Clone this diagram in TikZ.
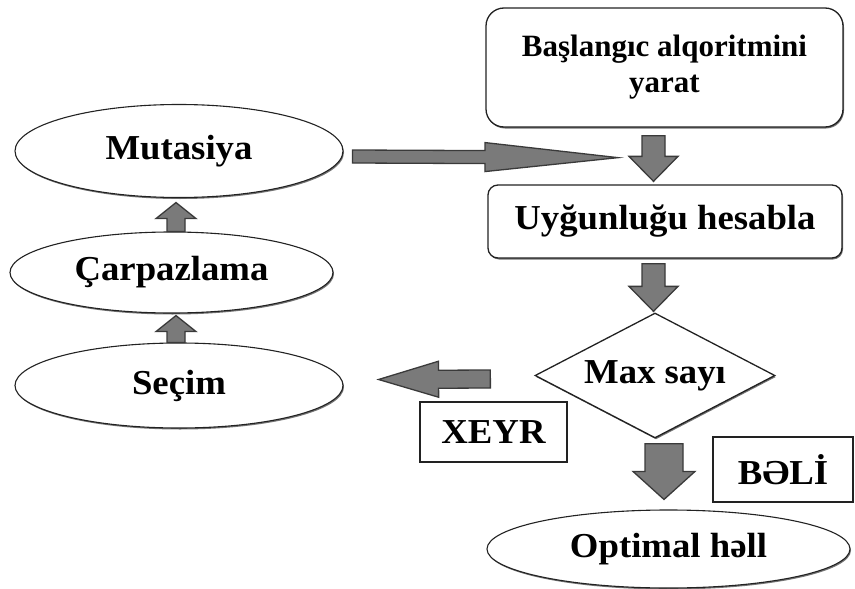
\documentclass[tikz,border=0pt]{standalone}
\usepackage{fontspec}
\setmainfont[FakeStretch=1.05]{Liberation Serif}
\newfontfamily\plainserif{Liberation Serif}
\usetikzlibrary{shapes.geometric,calc,shadows}

\definecolor{arrowfill}{HTML}{7A7A7A}
\definecolor{arrowedge}{HTML}{3A3A3A}
\definecolor{edgeink}{HTML}{222222}

\tikzset{
  every node/.style={font=\bfseries\fontsize{35}{40}\selectfont, text=black},
  softshadow/.style={drop shadow={shadow xshift=1pt, shadow yshift=-1.5pt,
                     fill=black!55, opacity=1}},
  procbox/.style={rectangle, draw=edgeink, fill=white, line width=1.3pt,
                  rounded corners=#1, align=center, inner sep=0pt, softshadow},
  procbox/.default=10pt,
  labelbox/.style={rectangle, draw=edgeink, fill=white, line width=1.3pt, inner sep=0pt},
  oval/.style={ellipse, draw=edgeink, fill=white, line width=1.1pt, inner sep=0pt, softshadow},
  decision/.style={diamond, aspect=1.9, draw=edgeink, fill=white, line width=1.3pt,
                   inner sep=0pt, softshadow},
  fatarrow/.style={fill=arrowfill, draw=arrowedge, line width=1.3pt, line join=miter},
}

% block arrow from #1 to #2: half shaft width #3, half head width #4, head length #5
\newcommand\fatarrow[5]{%
  \coordinate (fa-hb) at ($(#2)!#5!(#1)$);
  \draw[fatarrow] ($(#1)!#3!90:(#2)$) -- ($(fa-hb)!#3!90:(#2)$)
    -- ($(fa-hb)!#4!90:(#2)$) -- (#2) -- ($(fa-hb)!#4!-90:(#2)$)
    -- ($(fa-hb)!#3!-90:(#2)$) -- ($(#1)!#3!-90:(#2)$) -- cycle;}

\begin{document}
\begin{tikzpicture}[x=1pt, y=-1pt]
\useasboundingbox (0,0) rectangle (855,589);

% main column
\node[procbox=18pt, minimum width=357pt, minimum height=119pt,
      font={\plainserif\bfseries\fontsize{31}{36}\selectfont}]
      (start) at (664.5,67.5) {Başlangıc alqoritmini\\yarat};
\node[procbox=10pt, minimum width=354pt, minimum height=73pt]
      (fit) at (665,221.5) {Uyğunluğu hesabla};
\node[decision, minimum width=240pt, minimum height=125pt]
      (max) at (655,375.5) {Max sayı};
\node[labelbox, minimum width=147pt, minimum height=60pt]
      (no) at (493.5,432) {XEYR};
\node[labelbox, minimum width=140pt, minimum height=65pt]
      (yes) at (783,469.5) {BƏLİ};
\node[oval, minimum width=363pt, minimum height=78pt]
      (opt) at (668.5,549) {Optimal həll};

% genetic loop
\node[oval, minimum width=328pt, minimum height=93pt] (mut) at (179,151) {Mutasiya};
\node[oval, minimum width=323pt, minimum height=81pt] (carp) at (171.5,272.5) {Çarpazlama};
\node[oval, minimum width=328pt, minimum height=85pt] (sec) at (179,385.5) {Seçim};

% arrow end points
\coordinate (a1s) at ($(start.south)+(-11,8)$);
\coordinate (a1e) at ($(fit.north)+(-11.5,-3)$);
\coordinate (a2s) at ($(fit.south)+(-11.5,5)$);
\coordinate (a2e) at ($(max.north)+(-1.5,-1)$);
\coordinate (a3s) at ($(max.west)+(-44,3.5)$);
\coordinate (a3e) at ($(sec.east)+(35,-6)$);
\coordinate (a4s) at ($(max.south)+(9,5)$);
\coordinate (a4e) at ($(opt.north)+(-4.5,-10)$);
\coordinate (u1s) at ($(carp.north)+(4.5,0)$);
\coordinate (u1e) at ($(mut.south)+(-3,4.5)$);
\coordinate (u2s) at ($(sec.north)+(-3,0)$);
\coordinate (u2e) at ($(carp.south)+(4.5,2)$);
\coordinate (ms) at ($(mut.east)+(9,5.5)$);
\coordinate (me) at ($(start.south)+(-46.5,30)$);

% connectors
\fatarrow{a1s}{a1e}{11.5pt}{24.5pt}{25pt}
\fatarrow{a2s}{a2e}{11.5pt}{24.5pt}{25pt}
\fatarrow{a3s}{a3e}{9pt}{18pt}{60pt}
\fatarrow{a4s}{a4e}{19pt}{31pt}{28pt}
\fatarrow{u1s}{u1e}{9pt}{20pt}{16pt}
\fatarrow{u2s}{u2e}{9pt}{20pt}{16pt}
\fatarrow{ms}{me}{6.5pt}{14.5pt}{133pt}
\end{tikzpicture}
\end{document}
